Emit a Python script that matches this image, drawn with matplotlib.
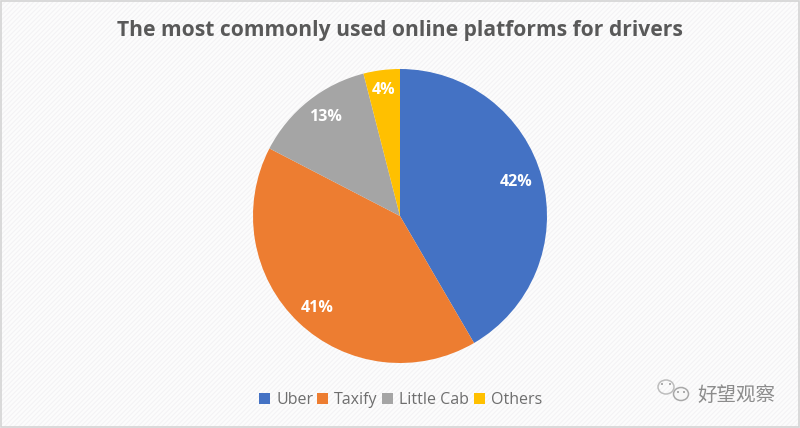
import matplotlib
matplotlib.use("Agg")
import matplotlib.pyplot as plt
from matplotlib.patches import Rectangle, Ellipse, Circle

categories = ["Uber", "Taxify", "Little Cab", "Others"]
values = [41.6, 41.0, 13.4, 4.0]
labels = ["42%", "41%", "13%", "4%"]
colors = ["#4472C4", "#ED7D31", "#A5A5A5", "#FFC000"]
title = "The most commonly used online platforms for drivers"
watermark = "好望观察"

plt.rcParams['font.family'] = ['Open Sans', 'Noto Sans CJK SC', 'DejaVu Sans']
plt.rcParams['hatch.linewidth'] = 1.6

fig = plt.figure(figsize=(8, 4.28), dpi=100)
ax = fig.add_axes([0, 0, 1, 1])

def Y(y):
    return 428 - y

wedges, _ = ax.pie(values, colors=colors, startangle=90, counterclock=False,
                   center=(400, Y(216)), radius=147, frame=True,
                   wedgeprops=dict(linewidth=0, zorder=3))
ax.set_xlim(0, 800)
ax.set_ylim(0, 428)
ax.set_aspect('equal')
ax.axis('off')

ax.add_patch(Rectangle((0, 0), 800, 428, facecolor='#F4F3F5', edgecolor='none', zorder=0))
ax.add_patch(Rectangle((0, 0), 800, 428, facecolor='none', edgecolor='#FCFCFC', lw=0,
                       hatch='///////', zorder=0.5))
ax.add_patch(Rectangle((1, 1), 798, 426, facecolor='none', edgecolor='#D4D4D4', lw=1.2, zorder=1))
ax.patch.set_visible(False)

label_pos = [(516, 181), (317, 308), (325, 116), (384, 89)]
for (x, y), s in zip(label_pos, labels):
    ax.text(x, Y(y + 0.5), s, color='white', fontsize=11.5, fontweight='bold',
            ha='center', va='center', zorder=5)

ax.text(400, Y(30), title, fontsize=15.1, fontweight='bold', color='#595959',
        ha='center', va='center', zorder=5)

# legend
leg_sq = [259, 317, 382, 474]
leg_txt = [276, 334, 399, 491]
for x, tx, c, name in zip(leg_sq, leg_txt, colors, categories):
    ax.add_patch(Rectangle((x, Y(404)), 11, 11, facecolor=c, edgecolor='none', zorder=5))
    ax.text(tx, Y(400), name, fontsize=11.5, color='#6E6E6E', ha='left', va='center', zorder=5)

# watermark
ax.add_patch(Ellipse((666, Y(387)), 16, 14, facecolor='none', edgecolor='#BDBDBD', lw=1.1, zorder=4))
ax.add_patch(Ellipse((681, Y(394)), 15, 13, facecolor='#F7F7F7', edgecolor='#A8A8A8', lw=1.1, zorder=4))
for cx, cy in [(662, 384), (670, 384), (678, 392), (684, 392)]:
    ax.add_patch(Circle((cx, Y(cy)), 1, facecolor='#9A9A9A', edgecolor='none', zorder=5))
ax.text(697, Y(396), watermark, fontsize=14, color='#8C8C8C', ha='left', va='center', zorder=5)

fig.savefig("out.png", dpi=100)
